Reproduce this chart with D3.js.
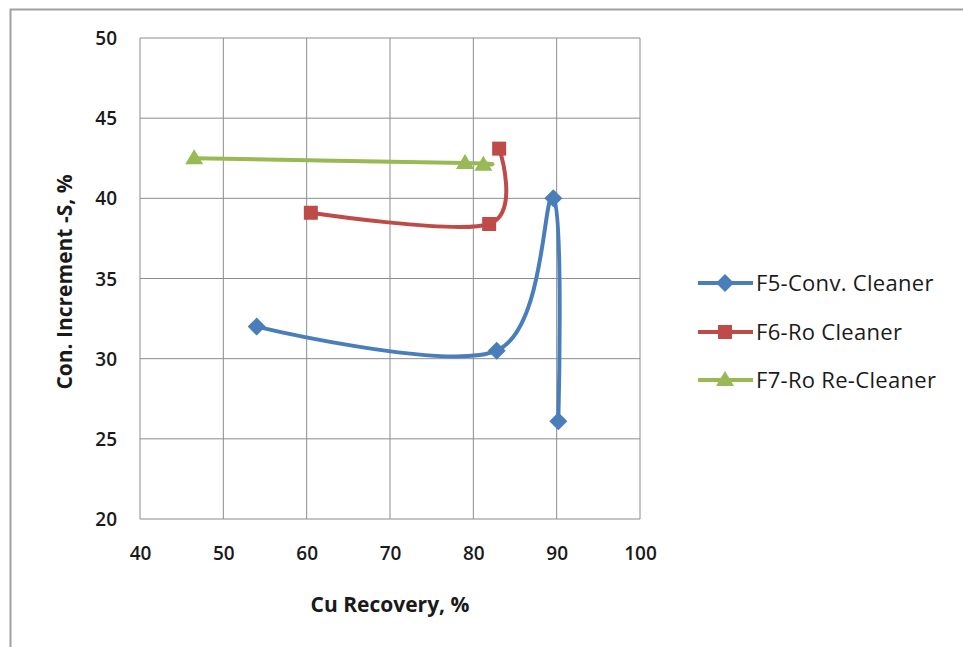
<!DOCTYPE html>
<html>
<head>
<meta charset="utf-8">
<script src="https://cdn.jsdelivr.net/npm/d3@7"></script>
<style>
  body { margin: 0; background: #fff; }
  text { font-family: "Open Sans", "DejaVu Sans", sans-serif; }
</style>
</head>
<body>
<div id="container"></div>
<script>
const seriesNames = ["F5-Conv. Cleaner", "F6-Ro Cleaner", "F7-Ro Re-Cleaner"];
const seriesColors = ["#4a7ebb", "#be4b48", "#98b954"];
const seriesMarkers = ["diamond", "square", "triangle"];

const f5Recovery = [54.0, 82.8, 89.6, 90.2];
const f5Increment = [32.0, 30.5, 40.0, 26.1];
const f6Recovery = [60.5, 81.9, 83.1];
const f6Increment = [39.1, 38.4, 43.1];
const f7Recovery = [46.5, 79.0, 81.2];
const f7Increment = [42.5, 42.2, 42.1];

const xTicks = [40, 50, 60, 70, 80, 90, 100];
const yTicks = [20, 25, 30, 35, 40, 45, 50];

const width = 963
const height = 647
const plotLeft = 140, plotRight = 640, plotTop = 38, plotBottom = 519

const series = [
  {name: seriesNames[0], x: f5Recovery, y: f5Increment},
  {name: seriesNames[1], x: f6Recovery, y: f6Increment},
  {name: seriesNames[2], x: f7Recovery, y: f7Increment}
];

const svg = d3.select("#container").append("svg").attr("width", width).attr("height", height);

// outer chart border
svg.append("rect")
  .attr("x", 10.5).attr("y", 9.5)
  .attr("width", width + 20).attr("height", height + 20)
  .attr("fill", "none").attr("stroke", "#a0a0a0").attr("stroke-width", 2);

const x = d3.scaleLinear().domain([40, 100]).range([plotLeft, plotRight]);
const y = d3.scaleLinear().domain([20, 50]).range([plotBottom, plotTop]);

// grid
svg.append("g").selectAll("line").data(xTicks).enter().append("line")
  .attr("x1", d => x(d)).attr("x2", d => x(d))
  .attr("y1", plotTop).attr("y2", plotBottom)
  .attr("stroke", "#8c8c8c").attr("stroke-width", 1);
svg.append("g").selectAll("line").data(yTicks).enter().append("line")
  .attr("y1", d => y(d)).attr("y2", d => y(d))
  .attr("x1", plotLeft).attr("x2", plotRight)
  .attr("stroke", "#8c8c8c").attr("stroke-width", 1);

// axes (labels only, grid draws the frame)
const xAxis = svg.append("g").attr("transform", `translate(0,${plotBottom})`)
  .call(d3.axisBottom(x).tickValues(xTicks).tickSize(0).tickPadding(28));
const yAxis = svg.append("g").attr("transform", `translate(${plotLeft},0)`)
  .call(d3.axisLeft(y).tickValues(yTicks).tickSize(0).tickPadding(23));
[xAxis, yAxis].forEach(a => {
  a.select(".domain").remove();
  a.selectAll("text").attr("font-size", 19).attr("font-weight", 600).attr("fill", "#1a1a1a")
    .style("font-family", "'Open Sans', sans-serif");
});
yAxis.selectAll("text").attr("dy", "0.35em");

svg.append("text")
  .attr("x", 390).attr("y", 612)
  .attr("text-anchor", "middle")
  .attr("font-size", 21).attr("font-weight", "bold").attr("fill", "#1a1a1a")
  .text("Cu Recovery, %");

svg.append("text")
  .attr("transform", "translate(72,282) rotate(-90)")
  .attr("text-anchor", "middle")
  .attr("font-size", 21).attr("font-weight", "bold").attr("fill", "#1a1a1a")
  .text("Con. Increment -S, %");

const line = d3.line()
  .x(d => x(d[0]))
  .y(d => y(d[1]))
  .curve(d3.curveCatmullRom.alpha(0));

function marker(g, type, color, cx, cy) {
  if (type == "diamond") {
    g.append("path").attr("d", `M${cx},${cy-9} L${cx+9},${cy} L${cx},${cy+9} L${cx-9},${cy} Z`).attr("fill", color);
  } else if (type == "square") {
    g.append("rect").attr("x", cx-7).attr("y", cy-7).attr("width", 14).attr("height", 14).attr("fill", color);
  } else {
    g.append("path").attr("d", `M${cx},${cy-9} L${cx+9},${cy+6} L${cx-9},${cy+6} Z`).attr("fill", color);
  }
}

series.forEach((s, i) => {
  const pts = s.x.map((v, j) => [v, s.y[j]]);
  svg.append("path")
    .attr("d", line(pts))
    .attr("fill", "none")
    .attr("stroke", seriesColors[i])
    .attr("stroke-width", 4)
    .attr("stroke-linejoin", "round");
  const g = svg.append("g");
  pts.forEach(p => marker(g, seriesMarkers[i], seriesColors[i], x(p[0]), y(p[1])));
});

// legend
const legendY = [283, 332, 380];
series.forEach((s, i) => {
  const ly = legendY[i];
  svg.append("line")
    .attr("x1", 698).attr("x2", 753).attr("y1", ly).attr("y2", ly)
    .attr("stroke", seriesColors[i]).attr("stroke-width", 4);
  marker(svg, seriesMarkers[i], seriesColors[i], 725, ly);
  svg.append("text")
    .attr("x", 756).attr("y", ly).attr("dy", "0.35em")
    .attr("font-size", 22).attr("fill", "#1a1a1a")
    .style("letter-spacing", "0.3px")
    .text(s.name);
});
</script>
</body>
</html>
